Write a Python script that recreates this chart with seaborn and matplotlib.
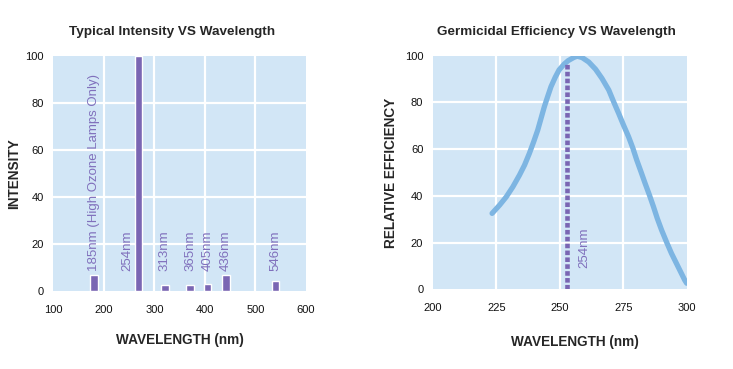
import numpy as np
import pandas as pd
import matplotlib
matplotlib.use("Agg")
import matplotlib.pyplot as plt
import seaborn as sns

# ---------------- data ----------------
# Left chart: mercury emission lines (positions as drawn in the picture)
line_labels = ["185nm (High Ozone Lamps Only)", "254nm", "313nm", "365nm", "405nm", "436nm", "546nm"]
line_positions = [180.4, 268.6, 320.6, 370.6, 404.9, 441.2, 539.2]
line_intensity = [6.9, 100.0, 2.5, 2.4, 3.0, 6.8, 4.4]

left_xticks = [100, 200, 300, 400, 500, 600]
left_yticks = [0, 20, 40, 60, 80, 100]

# Right chart: germicidal efficiency curve
eff_wavelength = [223.3, 226.3, 228.9, 231.5, 234.1, 236.1, 238.0, 239.7, 241.3, 242.6,
                  243.9, 245.2, 246.5, 248.2, 249.7, 251.7, 253.3, 255.6, 256.9, 258.8,
                  261.4, 264.1, 266.6, 269.3, 271.2, 273.2, 275.1, 277.1, 278.8, 280.3,
                  282.0, 283.6, 285.3, 286.9, 288.4, 290.1, 292.0, 294.0, 296.6, 299.2, 300.0]
eff_value = [32.5, 36.1, 39.6, 43.9, 48.9, 53.2, 58.2, 63.2, 68.2, 73.2,
             78.2, 82.5, 86.7, 90.8, 93.9, 96.4, 97.9, 99.3, 99.8, 99.2,
             97.3, 94.2, 90.3, 85.3, 80.3, 75.3, 70.3, 65.3, 60.4, 55.4,
             50.3, 45.4, 40.4, 35.4, 30.4, 25.4, 20.4, 15.4, 9.7, 4.0, 2.6]
marker_x = [252.7, 252.7]
marker_y = [0, 96.8]
marker_label = "254nm"

right_xticks = [200, 225, 250, 275, 300]
right_yticks = [0, 20, 40, 60, 80, 100]

# ---------------- style ----------------
BG = "#d2e6f6"
PURPLE = "#7a66b3"
LABEL_PURPLE = "#8070bc"
CURVE = "#7db5e2"
FONT = ["Liberation Sans", "DejaVu Sans"]

sns.set_theme(style="white")
plt.rcParams["font.family"] = FONT

fig = plt.figure(figsize=(7.33, 3.69), dpi=100)
ax1 = fig.add_axes([0.0727, 0.2114, 0.3448, 0.6377])
ax2 = fig.add_axes([0.5907, 0.2160, 0.3461, 0.6330])


def style_axes(ax, xticks, yticks):
    ax.set_facecolor(BG)
    for s in ax.spines.values():
        s.set_visible(False)
    ax.set_xticks(xticks)
    ax.set_yticks(yticks)
    ax.set_xlim(xticks[0], xticks[-1])
    ax.set_ylim(yticks[0], yticks[-1])
    ax.set_axisbelow(True)
    ax.grid(True, color="white", linewidth=1.6)
    for tk in (ax.xaxis.get_major_ticks()[0], ax.xaxis.get_major_ticks()[-1],
               ax.yaxis.get_major_ticks()[0], ax.yaxis.get_major_ticks()[-1]):
        tk.gridline.set_visible(False)
    ax.tick_params(axis="both", length=0, labelsize=8, colors="#111111")
    ax.tick_params(axis="x", pad=10)
    ax.tick_params(axis="y", pad=7)


# ---------------- left chart ----------------
df_lines = pd.DataFrame({"pos": line_positions, "intensity": line_intensity})
min_gap = np.diff(np.sort(line_positions)).min()
sns.barplot(data=df_lines, x="pos", y="intensity", native_scale=True,
            width=15.0 / min_gap, color=PURPLE, saturation=1, ax=ax1)
style_axes(ax1, left_xticks, left_yticks)

label_shift = [0, -21.5, 0, 0, 0, 0, 0]
for lab, x, dx in zip(line_labels, line_positions, label_shift):
    ax1.text(x + dx, 8.6, lab, rotation=90, ha="center", va="bottom",
             color=LABEL_PURPLE, fontsize=9.5, family=FONT)

ax1.set_title("Typical Intensity VS Wavelength", fontsize=9.7, fontweight="bold", pad=15, x=0.47)
ax1.set_xlabel("WAVELENGTH (nm)", fontsize=9.8, fontweight="bold", labelpad=13)
ax1.set_ylabel("INTENSITY", fontsize=9.8, fontweight="bold", labelpad=3)

# ---------------- right chart ----------------
df_eff = pd.DataFrame({"wavelength": eff_wavelength, "efficiency": eff_value})
sns.lineplot(data=df_eff, x="wavelength", y="efficiency", color=CURVE,
             linewidth=3.8, sort=False, ax=ax2, solid_capstyle="round", zorder=3)
ax2.plot(marker_x, marker_y, color=PURPLE, linewidth=3.3,
         dashes=(1.0, 0.5), dash_capstyle="butt", zorder=4)
style_axes(ax2, right_xticks, right_yticks)
ax2.text(259.5, 9.1, marker_label, rotation=90, ha="center", va="bottom",
         color=LABEL_PURPLE, fontsize=9.5, family=FONT)

ax2.set_title("Germicidal Efficiency VS Wavelength", fontsize=9.7, fontweight="bold", pad=15, x=0.488)
ax2.set_xlabel("WAVELENGTH (nm)", fontsize=9.8, fontweight="bold", labelpad=13)
ax2.xaxis.set_label_coords(0.56, -0.195)
ax2.set_ylabel("RELATIVE EFFICIENCY", fontsize=9.8, fontweight="bold", labelpad=5)

fig.savefig("out.png", dpi=100)
